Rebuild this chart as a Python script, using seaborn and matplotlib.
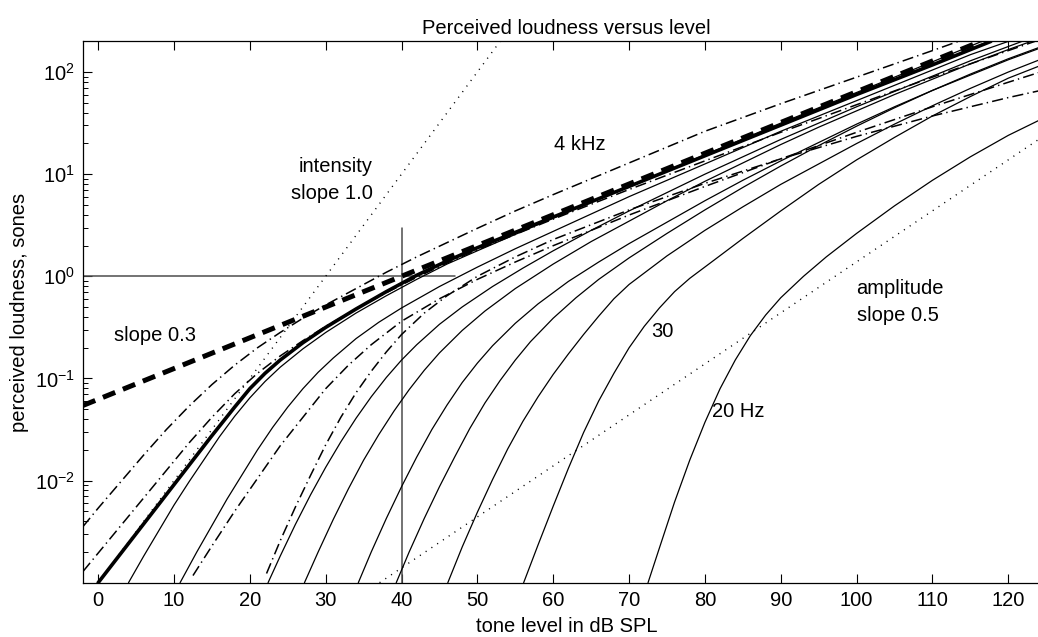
import numpy as np
import pandas as pd
import matplotlib
matplotlib.use("Agg")
import matplotlib.pyplot as plt
import seaborn as sns
from matplotlib.ticker import LogLocator, NullFormatter, FixedLocator

# ---------------- data ----------------
# each curve: tone level (dB SPL) and log10(loudness in sones)
thick_L = [0, 5, 10, 15, 18, 20, 22, 24, 27, 30, 34, 38, 42, 46, 50, 55, 60, 70, 80, 90, 100, 110, 117.7]
thick_lg = [-3.0, -2.52, -2.04, -1.56, -1.28, -1.10, -0.95, -0.82, -0.65, -0.50, -0.32, -0.15, 0.01,
            0.15, 0.28, 0.43, 0.58, 0.88, 1.18, 1.48, 1.78, 2.07, 2.3]

c1_L = [4, 6, 8, 10, 12, 14, 16, 18, 20, 22, 24, 27, 30, 34, 38, 42, 46, 50, 55, 60, 70, 80, 90, 100, 110, 116.5]
c1_lg = [-3.0, -2.74, -2.49, -2.24, -2.01, -1.79, -1.57, -1.37, -1.19, -1.03, -0.89, -0.71, -0.55, -0.36,
         -0.19, -0.03, 0.12, 0.25, 0.41, 0.57, 0.88, 1.19, 1.50, 1.80, 2.10, 2.3]
c2_L = [10.8, 13, 15, 17, 19, 21, 23, 25, 27, 29, 31, 34, 37, 40, 45, 50, 55, 60, 65, 70, 75, 80, 85, 90,
        95, 100, 105, 110, 115, 120]
c2_lg = [-3.0, -2.70, -2.44, -2.18, -1.94, -1.70, -1.48, -1.28, -1.10, -0.94, -0.80, -0.61, -0.45, -0.31,
         -0.10, 0.09, 0.27, 0.44, 0.61, 0.78, 0.94, 1.10, 1.26, 1.42, 1.57, 1.72, 1.87, 2.02, 2.17, 2.30]
c3_L = [22.4, 24, 26, 28, 30, 32, 34, 36, 38, 40, 42, 45, 48, 52, 56, 60, 65, 70, 75, 80, 85, 90, 95, 100,
        105, 110, 115, 120, 121.8]
c3_lg = [-3.0, -2.74, -2.43, -2.14, -1.87, -1.62, -1.39, -1.18, -0.99, -0.82, -0.67, -0.47, -0.30, -0.10,
         0.08, 0.25, 0.45, 0.64, 0.82, 1.00, 1.17, 1.34, 1.50, 1.66, 1.81, 1.96, 2.11, 2.25, 2.30]
c4_L = [27.2, 29, 31, 33, 35, 37, 39, 41, 43, 45, 48, 51, 55, 60, 65, 70, 75, 80, 85, 90, 95, 100, 105,
        110, 115, 120, 123]
c4_lg = [-3.0, -2.70, -2.38, -2.08, -1.80, -1.55, -1.32, -1.11, -0.92, -0.75, -0.53, -0.34, -0.12, 0.12,
         0.34, 0.54, 0.74, 0.93, 1.11, 1.29, 1.46, 1.62, 1.78, 1.93, 2.08, 2.22, 2.30]
c5_L = [34.3, 36, 38, 40, 42, 44, 46, 48, 50, 52, 55, 58, 62, 66, 70, 75, 80, 85, 90, 95, 100, 105, 110,
        115, 120, 125.5]
c5_lg = [-3.0, -2.70, -2.37, -2.06, -1.77, -1.50, -1.26, -1.04, -0.85, -0.68, -0.46, -0.27, -0.05, 0.14,
         0.32, 0.53, 0.74, 0.94, 1.13, 1.31, 1.49, 1.66, 1.82, 1.97, 2.12, 2.27]
c6_L = [39.3, 41, 43, 45, 47, 49, 51, 53, 55, 57, 60, 63, 66, 70, 75, 80, 85, 90, 95, 100, 105, 110, 115,
        120, 125.5]
c6_lg = [-3.0, -2.70, -2.37, -2.06, -1.77, -1.49, -1.24, -1.02, -0.82, -0.64, -0.41, -0.21, -0.03, 0.18,
         0.42, 0.65, 0.87, 1.08, 1.28, 1.47, 1.65, 1.82, 1.98, 2.13, 2.28]
c7_L = [46.1, 48, 50, 52, 54, 56, 58, 60, 62, 64, 66, 68, 70, 75, 80, 85, 90, 95, 100, 105, 110, 115,
        120, 125.5]
c7_lg = [-3.0, -2.65, -2.31, -1.99, -1.69, -1.42, -1.18, -0.96, -0.76, -0.57, -0.39, -0.22, -0.08, 0.20,
         0.45, 0.68, 0.90, 1.10, 1.30, 1.49, 1.67, 1.84, 2.00, 2.16]
c8_L = [56.1, 58, 60, 62, 64, 66, 68, 70, 72, 74, 76, 78, 80.7, 85, 90, 95, 100, 105, 110, 115, 120, 125.5]
c8_lg = [-3.0, -2.63, -2.25, -1.88, -1.53, -1.22, -0.95, -0.70, -0.49, -0.31, -0.15, -0.02, 0.13, 0.37,
         0.64, 0.90, 1.14, 1.36, 1.57, 1.76, 1.94, 2.10]
c9_L = [72.5, 74, 76, 78, 80, 82, 84, 86, 88, 90, 93, 96, 100, 105, 110, 115, 120, 125.5]
c9_lg = [-3.0, -2.66, -2.21, -1.80, -1.43, -1.10, -0.82, -0.58, -0.38, -0.21, 0.0, 0.19, 0.42, 0.69,
         0.94, 1.17, 1.38, 1.58]

d1_L = [-2, 0, 3, 6, 9, 12, 15, 18, 21, 24, 27, 30, 34, 38, 42, 46, 50, 55, 60, 70, 80, 90, 100, 110, 113.4]
d1_lg = [-2.45, -2.27, -2.01, -1.75, -1.50, -1.27, -1.06, -0.87, -0.70, -0.55, -0.41, -0.28, -0.12, 0.04,
         0.19, 0.33, 0.47, 0.64, 0.80, 1.11, 1.42, 1.69, 1.95, 2.21, 2.30]
d2_L = [-2, 0, 3, 6, 9, 12, 15, 18, 21, 24, 27, 30, 34, 38, 42, 46, 50, 55, 60, 70, 80, 90, 100, 110, 120, 123.5]
d2_lg = [-2.89, -2.71, -2.44, -2.17, -1.90, -1.63, -1.38, -1.15, -0.95, -0.78, -0.63, -0.49, -0.32, -0.16,
         -0.01, 0.13, 0.26, 0.41, 0.56, 0.85, 1.13, 1.41, 1.68, 1.95, 2.21, 2.30]
d3_L = [12.5, 15, 18, 21, 24, 27, 30, 33, 36, 40, 45, 50, 55, 60, 70, 80, 90, 100, 110, 120, 125.5]
d3_lg = [-2.93, -2.64, -2.30, -1.98, -1.66, -1.38, -1.10, -0.87, -0.67, -0.44, -0.22, -0.03, 0.14, 0.30,
         0.60, 0.88, 1.15, 1.41, 1.66, 1.90, 2.03]
d4_L = [22.2, 24, 26, 28, 30, 32, 34, 36, 38, 40, 43, 46, 50, 55, 60, 70, 80, 90, 100, 110, 120, 125.5]
d4_lg = [-2.91, -2.59, -2.26, -1.95, -1.65, -1.38, -1.14, -0.93, -0.74, -0.57, -0.36, -0.19, 0.0, 0.19,
         0.36, 0.65, 0.91, 1.15, 1.37, 1.57, 1.75, 1.84]

solid_curves = [(c1_L, c1_lg), (c2_L, c2_lg), (c3_L, c3_lg), (c4_L, c4_lg), (c5_L, c5_lg),
                (c6_L, c6_lg), (c7_L, c7_lg), (c8_L, c8_lg), (c9_L, c9_lg)]
dashdot_curves = [(d1_L, d1_lg), (d2_L, d2_lg), (d3_L, d3_lg), (d4_L, d4_lg)]

# reference power-law lines (end points)
slope03_L = [-2, 116.4]
slope03_N = [0.0544, 200.0]
intensity_L = [0, 53.0]
intensity_N = [0.001, 200.0]
amplitude_L = [37.1, 125.5]
amplitude_N = [0.001, 26.0]

# 1 sone at 40 dB cross-hair
cross_h_L = [-2, 47]
cross_h_N = [1.0, 1.0]
cross_v_L = [40, 40]
cross_v_N = [0.001, 3.0]

xticks = [0, 10, 20, 30, 40, 50, 60, 70, 80, 90, 100, 110, 120]
yticks = [1e-2, 1e-1, 1e0, 1e1, 1e2]

# ---------------- figure ----------------
sns.set_style("ticks")
plt.rcParams["font.family"] = ["Liberation Sans", "DejaVu Sans"]
plt.rcParams["lines.scale_dashes"] = False
plt.rcParams["mathtext.fontset"] = "custom"
plt.rcParams["mathtext.rm"] = "Liberation Sans"
for k in ["text.color", "axes.labelcolor", "xtick.color", "ytick.color", "axes.edgecolor"]:
    plt.rcParams[k] = "black"
FS = 14.5

W, H = 1038, 637
fig = plt.figure(figsize=(W / 100, H / 100), dpi=100)
ax = fig.add_axes([83 / W, (H - 582.7) / H, (1050 - 83) / W, (582.7 - 41.3) / H])
ax.set_yscale("log")


def draw(L, N, **kw):
    df = pd.DataFrame({"L": L, "N": N})
    sns.lineplot(data=df, x="L", y="N", ax=ax, sort=False, estimator=None,
                 color="black", **kw)


# crosshair
ax.plot(cross_h_L, cross_h_N, color="0.3", lw=1.1, zorder=1)
ax.plot(cross_v_L, cross_v_N, color="0.3", lw=1.1, zorder=1)

# reference lines
draw(intensity_L, intensity_N, lw=1.0, dashes=(0.8, 4.2))
draw(amplitude_L, amplitude_N, lw=1.0, dashes=(0.8, 4.2))

for L, lg in solid_curves:
    draw(L, 10 ** np.array(lg), lw=0.9)
for L, lg in dashdot_curves:
    draw(L, 10 ** np.array(lg), lw=1.1, dashes=(8, 3, 1, 3))
draw(thick_L, 10 ** np.array(thick_lg), lw=2.6)
draw(slope03_L, slope03_N, lw=3.6, dashes=(9.5, 6))

ax.set_xlim(-2, 125.5)
ax.set_ylim(1e-3, 200)
ax.xaxis.set_major_locator(FixedLocator(xticks))
ax.set_xticklabels([str(t) for t in xticks], fontsize=FS)
ax.yaxis.set_major_locator(FixedLocator(yticks))
ax.set_yticklabels([r"$10^{%d}$" % int(np.log10(t)) for t in yticks], fontsize=FS)
ax.yaxis.set_minor_locator(LogLocator(base=10, subs=np.arange(2, 10)))
ax.yaxis.set_minor_formatter(NullFormatter())
ax.tick_params(axis="both", which="major", direction="in", length=6.5, width=0.8,
               top=True, right=False, labelsize=FS, colors="black", pad=6)
ax.tick_params(axis="y", which="minor", direction="in", length=3.5, width=0.7, right=False)
ax.tick_params(axis="x", which="minor", bottom=False, top=False)
for s in ["left", "bottom", "top"]:
    ax.spines[s].set_linewidth(0.9)
    ax.spines[s].set_color("black")
ax.spines["right"].set_visible(False)

ax.set_xlabel("tone level in dB SPL", fontsize=FS, labelpad=5)
ax.set_ylabel("perceived loudness, sones", fontsize=FS, labelpad=4)
ax.set_title("Perceived loudness versus level", fontsize=FS, pad=5)

# annotations (data coordinates)
ax.text(36.2, 10 ** 0.94, "intensity\nslope 1.0", fontsize=FS, ha="right", va="center",
        multialignment="right", linespacing=1.55)
ax.text(63.5, 10 ** 1.29, "4 kHz", fontsize=FS, ha="center", va="center")
ax.text(7.5, 10 ** -0.58, "slope 0.3", fontsize=FS, ha="center", va="center")
ax.text(74.4, 10 ** -0.54, "30", fontsize=FS, ha="center", va="center")
ax.text(81.0, 10 ** -1.32, "20 Hz", fontsize=FS, ha="left", va="center")
ax.text(100.0, 10 ** -0.25, "amplitude\nslope 0.5", fontsize=FS, ha="left", va="center",
        multialignment="left", linespacing=1.55)

fig.savefig("out.png", dpi=100)
